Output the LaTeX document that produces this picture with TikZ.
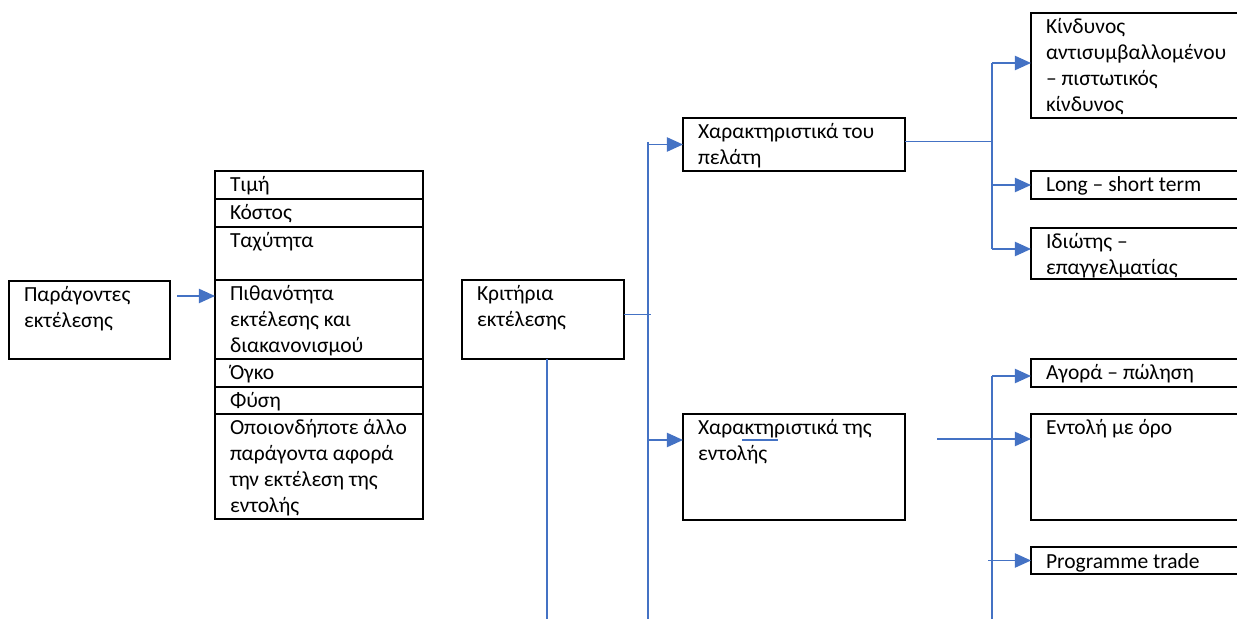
\documentclass[tikz,border=0pt]{standalone}
\usepackage{fontspec}
\setmainfont{Carlito}
\usepackage{tikz}
\usetikzlibrary{positioning,arrows.meta,calc}
\definecolor{linkblue}{HTML}{4472C4}
\newdimen\pxu
\pxu=0.5577pt

\begin{document}
\begin{tikzpicture}[x=0.5577pt,y=-0.5577pt,font=\fontsize{12}{14.5}\selectfont,
box/.style 2 args={draw,line width=1.2pt,inner sep=0pt,outer sep=0pt,anchor=north west,
execute at begin node={\begin{minipage}[t][#2\pxu][t]{#1\pxu}\raggedright\leftskip=15\pxu\rule{0pt}{21\pxu}},
execute at end node={\end{minipage}}},
link/.style={draw=linkblue,line width=0.75pt},
arr/.style={link,-{Triangle[length=9pt,width=8pt]}}]
\useasboundingbox (0,0) rectangle (1237,619);

% factors
\node [box={161}{78}] (par) at (9,281) {Παράγοντες\\εκτέλεσης};
\node [box={208}{28}] (tim) at (215,171) {Τιμή};
\node [box={208}{28},below=0pt of tim] (kos) {Κόστος};
\node [box={208}{53},below=0pt of kos] (tax) {Ταχύτητα};
\node [box={208}{79},below=0pt of tax] (pith) {Πιθανότητα\\εκτέλεσης και\\διακανονισμού};
\node [box={208}{28},below=0pt of pith] (ogk) {Όγκο};
\node [box={208}{27},below=0pt of ogk] (fys) {Φύση};
\node [box={208}{105},below=0pt of fys] (alo) {Οποιονδήποτε άλλο\\παράγοντα αφορά\\την εκτέλεση της\\εντολής};

% criteria
\node [box={162}{79}] (krit) at (462,280) {Κριτήρια\\εκτέλεσης};
\node [box={222}{53}] (pel) at (683,118) {Χαρακτηριστικά του\\πελάτη};
\node [box={222}{106}] (ent) at (683,414) {Χαρακτηριστικά της\\εντολής};

% right column, cut by the page edge
\node [box={260}{105}] (kin) at (1031,13) {Κίνδυνος\\αντισυμβαλλομένου\\– πιστωτικός\\κίνδυνος};
\node [box={260}{28}] (lng) at (1031,171) {Long – short term};
\node [box={260}{51}] (idi) at (1031,228) {Ιδιώτης –\\επαγγελματίας};

\node [box={260}{28}] (ago) at (1031,359) {Αγορά – πώληση};
\node [box={260}{106}] (ento) at (1031,414) {Εντολή με όρο};
\node [box={260}{27}] (prog) at (1031,547) {Programme trade};

% links
\coordinate (pin) at ($(pith.north west)+(0,16)$);
\draw [arr] ($(pin -| par.east)+(7,0)$) -- (pin);

\coordinate (ktop) at (648,142);
\coordinate (kbot) at (648,619);
\draw [link] (ktop) -- (kbot);
\draw [link] ($(krit.east)+(0,-5)$) -- ($(krit.east -| ktop)+(3,-5)$);
\draw [arr] (ktop |- pel.west) -- (pel.west);
\coordinate (ein1) at ($(ent.north west)+(0,26)$);
\draw [arr] (ktop |- ein1) -- (ein1);
\draw [link] ($(ein1)+(59,0)$) -- ++(36,0);
\coordinate (kdown) at ($(krit.south)+(4,0)$);
\draw [link] (kdown) -- (kdown |- kbot);

\coordinate (ptop) at (992,63);
\coordinate (pbot) at (992,249);
\draw [link] (ptop) -- (pbot);
\draw [link] ($(pel.east)+(0,-3)$) -- ($(pel.east -| ptop)+(0,-3)$);
\draw [arr] (ptop) -- (ptop -| kin.west);
\draw [arr] (ptop |- lng.west) -- (lng.west);
\draw [arr] (pbot) -- (pbot -| idi.west);

\coordinate (etop) at (992,376);
\coordinate (ebot) at (992,619);
\draw [link] (etop) -- (ebot);
\draw [arr] (etop) -- (etop -| ago.west);
\coordinate (ein2) at ($(ento.north west)+(0,25)$);
\draw [arr] ($(ent.east |- ein2)+(32,0)$) -- (ein2);
\draw [arr] ($(etop |- prog.west)+(-4,0)$) -- (prog.west);
\end{tikzpicture}
\end{document}
